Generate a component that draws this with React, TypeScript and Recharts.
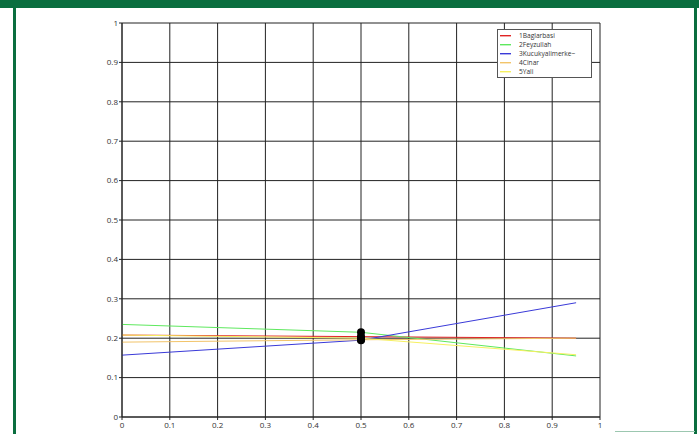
import React from "react";
import {
  LineChart,
  Line,
  XAxis,
  YAxis,
  CartesianGrid,
} from "recharts";

// x positions of the points
const xs = [0, 0.5, 0.95];

// values
const baglarbasi = [0.208, 0.204, 0.2];
const feyzullah = [0.235, 0.215, 0.155];
const kucukyali = [0.157, 0.195, 0.29];
const cinar = [0.19, 0.196, 0.2];
const yali = [0.208, 0.2, 0.158];

const ticks = [0, 0.1, 0.2, 0.3, 0.4, 0.5, 0.6, 0.7, 0.8, 0.9, 1];

const SERIES = [
  { key: "s1", name: "1Baglarbasi", values: baglarbasi, color: "#e02424" },
  { key: "s2", name: "2Feyzullah", values: feyzullah, color: "#5ee85e" },
  { key: "s3", name: "3Kucukyalimerke~", values: kucukyali, color: "#3a3ad8" },
  { key: "s4", name: "4Cinar", values: cinar, color: "#f2c46a" },
  { key: "s5", name: "5Yali", values: yali, color: "#f6f060" },
];

const data = xs.map((x, i) => {
  const row: Record<string, number> = { x };
  SERIES.forEach((s) => {
    row[s.key] = s.values[i];
  });
  return row;
});

const GREEN = "#0a6e3f";
const tickStyle = { fontSize: 8, fill: "#333", fontFamily: "'Open Sans', sans-serif" };

// black marker only on the middle point
const renderDot = (props: any) => {
  const { cx, cy, index, key } = props;
  if (index !== 1) return <g key={key} />;
  return <circle key={key} cx={cx} cy={cy} r={4} fill="#000" stroke="none" />;
};

function LegendBox() {
  return (
    <div
      style={{
        position: "absolute",
        left: 497,
        top: 29,
        width: 93,
        padding: "1px 0",
        border: "1px solid #555",
        background: "#fff",
        fontFamily: "'Open Sans', sans-serif",
        fontSize: 6.6,
        lineHeight: "9px",
        color: "#333",
      }}
    >
      {SERIES.map((s) => (
        <div key={s.key} style={{ display: "flex", alignItems: "center", height: 9 }}>
          <svg width={21} height={9} style={{ flex: "none", display: "block" }}>
            <rect x={2} y={4} width={11} height={1.4} fill={s.color} />
          </svg>
          <span style={{ whiteSpace: "nowrap" }}>{s.name}</span>
        </div>
      ))}
    </div>
  );
}

export default function App() {
  return (
    <div
      style={{
        position: "fixed",
        left: 0,
        top: 0,
        width: 699,
        height: 434,
        background: "#fff",
        overflow: "hidden",
      }}
    >
      <div style={{ position: "absolute", left: 0, top: 0 }}>
        <LineChart
          width={620}
          height={434}
          data={data}
          margin={{ top: 23, right: 20, left: 82, bottom: 0 }}
        >
          <CartesianGrid stroke="#222" strokeWidth={1} />
          <XAxis
            dataKey="x"
            type="number"
            domain={[0, 1]}
            ticks={ticks}
            interval={0}
            height={17}
            tick={tickStyle}
            tickSize={3}
            tickMargin={2}
            axisLine={{ stroke: "#222" }}
            tickLine={{ stroke: "#222" }}
          />
          <YAxis
            type="number"
            domain={[0, 1]}
            ticks={ticks}
            interval={0}
            width={40}
            tick={tickStyle}
            tickSize={3}
            tickMargin={1}
            axisLine={{ stroke: "#222" }}
            tickLine={{ stroke: "#222" }}
          />
          {SERIES.map((s) => (
            <Line
              key={s.key}
              dataKey={s.key}
              name={s.name}
              type="linear"
              stroke={s.color}
              strokeWidth={1}
              dot={renderDot}
              activeDot={false}
              isAnimationActive={false}
            />
          ))}
        </LineChart>
      </div>
      <LegendBox />
      <div style={{ position: "absolute", left: 0, top: 0, width: 699, height: 8, background: GREEN }} />
      <div style={{ position: "absolute", left: 13, top: 0, width: 3, height: 434, background: GREEN }} />
      <div style={{ position: "absolute", left: 694, top: 0, width: 3, height: 434, background: GREEN }} />
      <div style={{ position: "absolute", left: 615, top: 431, width: 80, height: 1, background: "#9cc7b0" }} />
    </div>
  );
}
